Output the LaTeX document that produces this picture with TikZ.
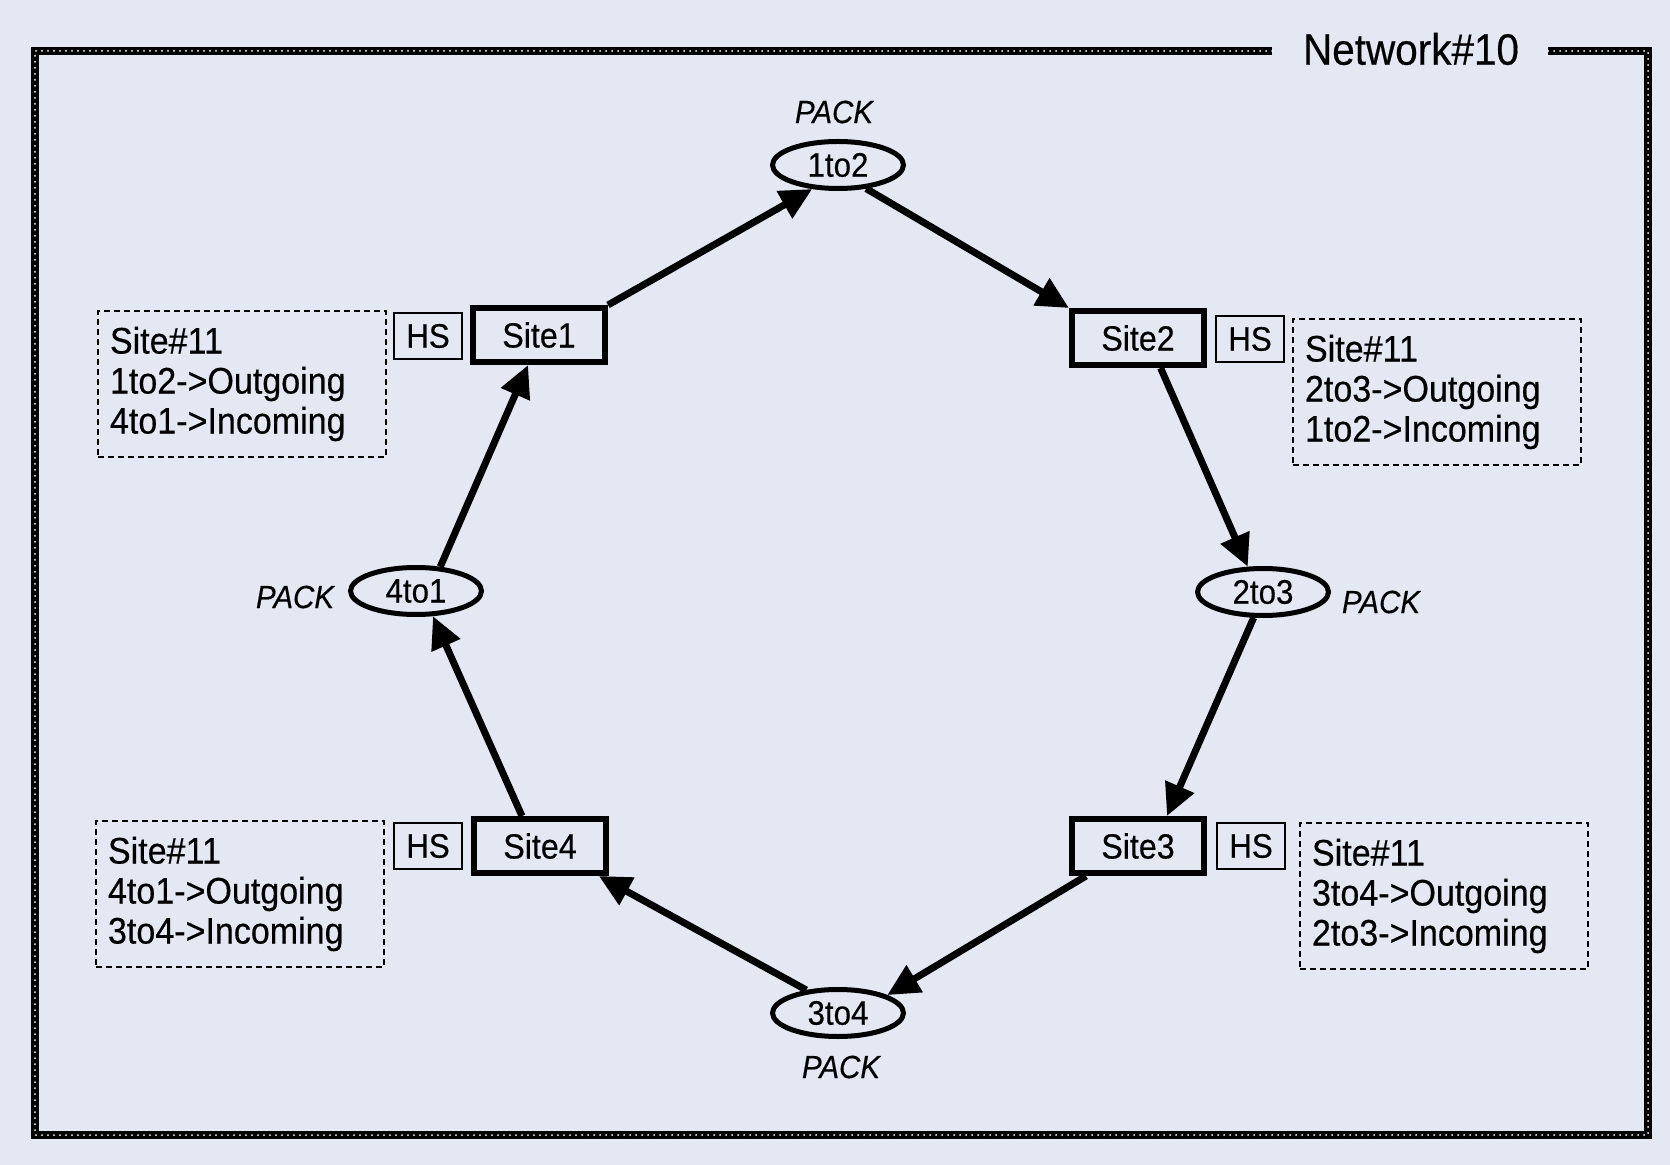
\documentclass[tikz,border=0pt]{standalone}
\usepackage{fontspec}
\setmainfont{Liberation Sans}[FakeStretch=0.92,FakeBold=0.4]
\usetikzlibrary{shapes.geometric,arrows.meta}
\definecolor{paper}{RGB}{228,232,242}
\begin{document}
\begin{tikzpicture}[x=0.5pt,y=-0.5pt,
  sitebox/.style={draw,line width=3pt,minimum width=66pt,minimum height=27pt,inner sep=0pt,
    font=\fontsize{17.5}{20}\selectfont},
  hsbox/.style={draw,line width=1pt,minimum width=34pt,minimum height=23pt,inner sep=0pt,
    font=\fontsize{17}{20}\selectfont},
  place/.style={draw,ellipse,line width=2.5pt,minimum width=65.5pt,minimum height=23.5pt,
    inner sep=0pt,font=\fontsize{17}{20}\selectfont},
  packlabel/.style={inner sep=0pt,font=\fontsize{16}{18}\selectfont\itshape},
  infobox/.style={draw,line width=0.8pt,dash pattern=on 3pt off 2pt,align=left,
    text width=132pt,inner xsep=6pt,minimum height=73pt,font=\fontsize{18.5}{20}\selectfont},
  flow/.style={line width=3.5pt,-{Triangle[length=16pt,width=15pt]}},
]
% paper
\fill[paper] (0,0) rectangle (1670,1165);
\useasboundingbox (0,0) rectangle (1670,1165);

% network frame with its title
\node[inner sep=0pt,font=\fontsize{22}{24}\selectfont] (title) at (1411,49) {Network\#10};
\draw[white!85!paper,line width=1pt,line cap=round,dash pattern=on 0pt off 3pt,
      preaction={draw=black,line width=3.6pt,solid,line cap=butt}]
  (1272,51) -- (35,51) -- (35,1135) -- (1648,1135) -- (1648,51) -- (1548,51);

% sites
\node[sitebox] (site1) at (539,335) {Site1};
\node[sitebox] (site2) at (1138,338) {Site2};
\node[sitebox] (site3) at (1138,846) {Site3};
\node[sitebox] (site4) at (540,846) {Site4};

% HS tags
\node[hsbox] (hs1) at (428,336) {HS};
\node[hsbox] (hs2) at (1250,339) {HS};
\node[hsbox] (hs3) at (1251,846) {HS};
\node[hsbox] (hs4) at (428,846) {HS};

% places
\node[place] (e12) at (838,165) {1to2};
\node[place] (e23) at (1263,592) {2to3};
\node[place] (e34) at (838,1013) {3to4};
\node[place] (e41) at (416,591) {4to1};

\node[packlabel] (p12) at (834,112) {PACK};
\node[packlabel] (p23) at (1381,602) {PACK};
\node[packlabel] (p34) at (841,1067) {PACK};
\node[packlabel] (p41) at (295,597) {PACK};

% site descriptions
\node[infobox] (d1) at (242,384) {Site\#11\\1to2->Outgoing\\4to1->Incoming};
\node[infobox] (d2) at (1437,392) {Site\#11\\2to3->Outgoing\\1to2->Incoming};
\node[infobox] (d3) at (1444,896) {Site\#11\\3to4->Outgoing\\2to3->Incoming};
\node[infobox] (d4) at (240,894) {Site\#11\\4to1->Outgoing\\3to4->Incoming};

% ring of arcs
\draw[flow] (site1.north east) -- (e12.223);
\draw[flow] (e12.-40) -- (site2.north west);
\draw[flow] (site2.-53) -- (e23.121);
\draw[flow] (e23.250) -- (site3.46);
\draw[flow] (site3.210) -- (e34.20);
\draw[flow] (e34.144) -- (site4.-27);
\draw[flow] (site4.121) -- (e41.-56);
\draw[flow] (e41.45) -- (site1.250);
\end{tikzpicture}
\end{document}
